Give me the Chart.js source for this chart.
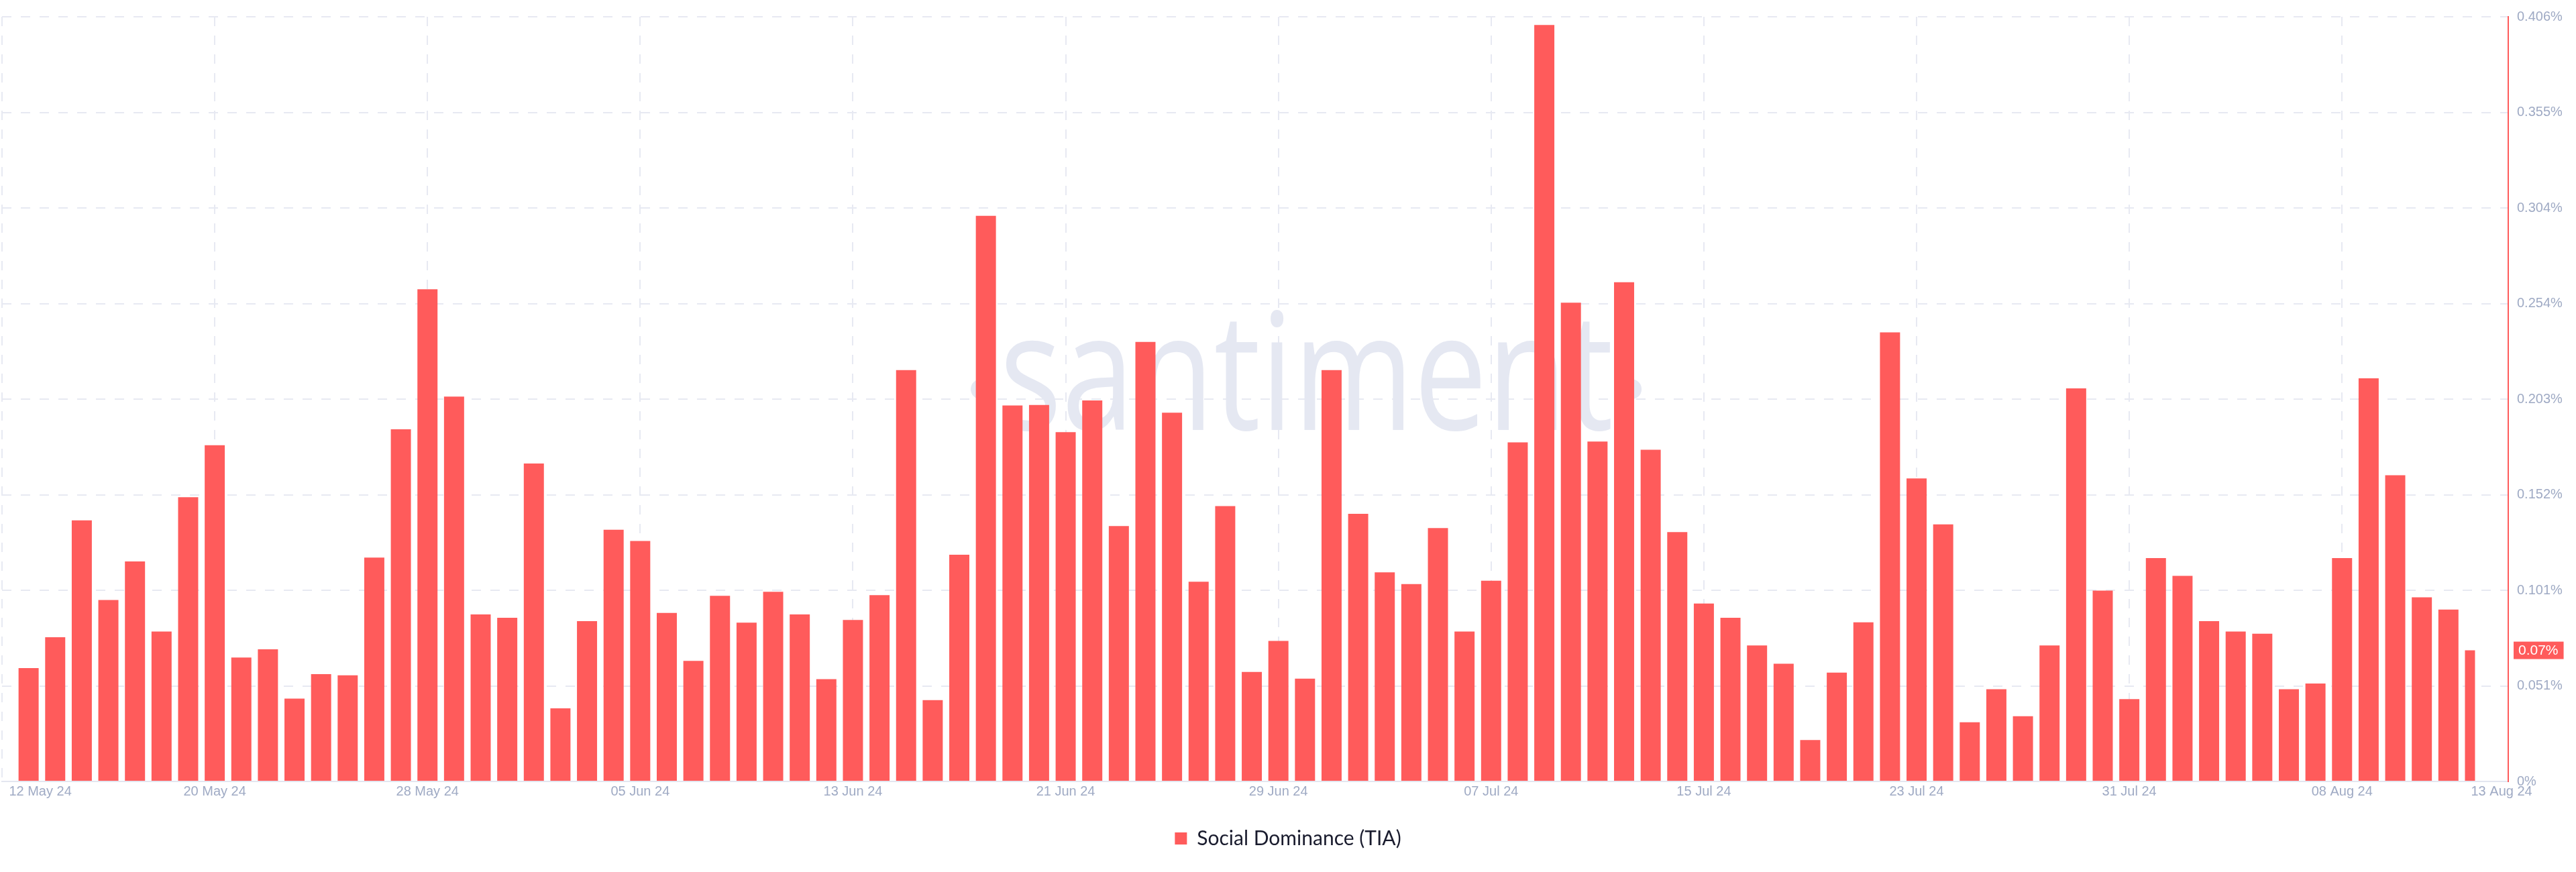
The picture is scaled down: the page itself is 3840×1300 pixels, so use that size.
<!DOCTYPE html>
<html>
<head>
<meta charset="utf-8">
<title>Social Dominance (TIA)</title>
<script src="https://cdn.jsdelivr.net/npm/chart.js@4.4.1/dist/chart.umd.min.js"></script>
<style>
  html, body { margin: 0; padding: 0; background: #ffffff; }
  #wrap { width: 3840px; height: 1300px; }
</style>
</head>
<body>
<div id="wrap"><canvas id="dominanceChart" width="3840" height="1300"></canvas></div>
<script>
// daily social dominance of TIA, 13 May 24 .. 13 Aug 24 (x = days after 12 May 24)
const dominance = [
    0.0602, 0.0766, 0.1386, 0.0963, 0.1168, 0.0796, 0.1509, 0.1785, 0.0658, 0.0702,
    0.0440, 0.0570, 0.0564, 0.1189, 0.1870, 0.2613, 0.2043, 0.0887, 0.0869,
    0.1688, 0.0388, 0.0851, 0.1336, 0.1277, 0.0895, 0.0640, 0.0986, 0.0843, 0.1007,
    0.0887, 0.0543, 0.0857, 0.0989, 0.2184, 0.0432, 0.1204, 0.3003, 0.1996, 0.1999,
    0.1855, 0.2023, 0.1356, 0.2334, 0.1958, 0.1060, 0.1462, 0.0581, 0.0746, 0.0546,
    0.2184, 0.1421, 0.1110, 0.1048, 0.1345, 0.0796, 0.1066, 0.1800, 0.4016, 0.2542,
    0.1805, 0.2651, 0.1761, 0.1324, 0.0945, 0.0869, 0.0722, 0.0625, 0.0220, 0.0578,
    0.0845, 0.2384, 0.1609, 0.1365, 0.0314, 0.0490, 0.0346, 0.0722, 0.2087, 0.1013, 0.0437,
    0.1186, 0.1092, 0.0851, 0.0796, 0.0784, 0.0490, 0.0520, 0.1186, 0.2140, 0.1626, 0.0978, 0.0913, 0.0696
];
const dayNumbers = dominance.map((v, i) => i + 1);

// x tick positions (days after 12 May) and their labels; edge labels sit just inside the ends
const xTickDays = [0, 1.44, 8, 16, 24, 32, 40, 48, 56, 64, 72, 80, 88, 94];
const xTickLabels = ['', '12 May 24', '20 May 24', '28 May 24', '05 Jun 24', '13 Jun 24', '21 Jun 24',
    '29 Jun 24', '07 Jul 24', '15 Jul 24', '23 Jul 24', '31 Jul 24', '08 Aug 24', '13 Aug 24'];
const xMaxDay = 94.25;

const yMax = 0.406;
const yTickLabels = ['0%', '0.051%', '0.101%', '0.152%', '0.203%', '0.254%', '0.304%', '0.355%', '0.406%'];

const barColor = '#ff5b5b';
const gridColor = '#e7e9f2';
const tickColor = '#9faac4';
const tickFont = { family: "'Liberation Sans', Arial, sans-serif", size: 20 };

// santiment mark behind the bars (over the grid)
const watermark = {
    id: 'watermark',
    beforeDatasetsDraw(chart) {
        const { ctx, chartArea } = chart;
        const text = 'santiment';
        const targetWidth = 915;
        ctx.save();
        ctx.font = "400 243px 'Open Sans', sans-serif";
        const w = ctx.measureText(text).width;
        const cx = chartArea.left + chartArea.width * 0.5205;
        const baseY = chartArea.top + chartArea.height * 0.5405;
        ctx.fillStyle = '#e5e8f2';
        // the two dots either side of the word
        ctx.beginPath();
        ctx.arc(cx - targetWidth / 2 - 28, baseY - 61, 15, 0, Math.PI * 2);
        ctx.arc(cx + targetWidth / 2 + 27, baseY - 61, 15, 0, Math.PI * 2);
        ctx.fill();
        ctx.translate(cx, baseY);
        ctx.scale(targetWidth / w, 1);
        ctx.textAlign = 'center';
        ctx.textBaseline = 'alphabetic';
        ctx.fillText(text, 0, 0);
        ctx.restore();
    }
};

// the latest day is still running: only the left half of its bar is shown
const halfLastBar = {
    id: 'halfLastBar',
    beforeDatasetDraw(chart) {
        const { ctx, chartArea } = chart;
        const cut = chart.scales.x.getPixelForValue(dayNumbers[dayNumbers.length - 1]);
        ctx.save();
        ctx.beginPath();
        ctx.rect(chartArea.left, chartArea.top, cut - chartArea.left, chartArea.bottom - chartArea.top);
        ctx.clip();
    },
    afterDatasetDraw(chart) {
        chart.ctx.restore();
    }
};

// red label with the latest value on the right axis
const lastValueBadge = {
    id: 'lastValueBadge',
    afterDraw(chart) {
        const { ctx } = chart;
        const yScale = chart.scales.y;
        const last = dominance[dominance.length - 1];
        const py = yScale.getPixelForValue(last);
        const text = last.toFixed(2) + '%';
        ctx.save();
        ctx.font = "21px 'Liberation Sans', Arial, sans-serif";
        const w = ctx.measureText(text).width + 15;
        ctx.fillStyle = barColor;
        ctx.fillRect(yScale.left + 8, py - 13, w, 26);
        ctx.fillStyle = '#ffffff';
        ctx.textBaseline = 'middle';
        ctx.fillText(text, yScale.left + 15, py + 1);
        ctx.restore();
    }
};

const chartCtx = document.getElementById('dominanceChart').getContext('2d');
const dominanceChart = new Chart(chartCtx, {
    type: 'bar',
    data: {
        datasets: [{
            label: 'Social Dominance (TIA)',
            data: dominance.map((v, i) => ({ x: dayNumbers[i], y: v })),
            backgroundColor: barColor,
            borderWidth: 0,
            barPercentage: 0.756,
            categoryPercentage: 1
        }]
    },
    options: {
        responsive: false,
        animation: false,
        layout: {
            padding: { left: 0, right: 0, top: 0, bottom: 25 }
        },
        plugins: {
            legend: {
                position: 'bottom',
                labels: {
                    boxWidth: 18,
                    boxHeight: 18,
                    padding: 24,
                    color: '#191b2d',
                    font: { family: "Lato, 'Open Sans', sans-serif", size: 30 }
                }
            },
            tooltip: { enabled: false }
        },
        scales: {
            x: {
                type: 'linear',
                min: 0,
                max: xMaxDay,
                offset: false,
                afterBuildTicks: scale => {
                    scale.ticks = xTickDays.map(v => ({ value: v }));
                },
                afterFit: scale => {
                    scale.height += 16;
                },
                ticks: {
                    autoSkip: false,
                    maxRotation: 0,
                    color: tickColor,
                    font: tickFont,
                    padding: 3,
                    callback: (value, index) => xTickLabels[index]
                },
                grid: {
                    offset: false,
                    drawTicks: false,
                    lineWidth: 2,
                    color: ctx => (ctx.tick && ctx.tick.value % 8 === 0) ? gridColor : 'rgba(0,0,0,0)'
                },
                border: { color: '#e3e6f0', width: 2, dash: [14, 14] }
            },
            y: {
                position: 'right',
                min: 0,
                max: yMax,
                afterBuildTicks: scale => {
                    scale.ticks = yTickLabels.map((t, i) => ({ value: yMax * i / (yTickLabels.length - 1) }));
                },
                afterFit: scale => {
                    scale.width = 101;
                },
                ticks: {
                    color: tickColor,
                    font: tickFont,
                    padding: 13,
                    callback: (value, index) => yTickLabels[index]
                },
                grid: {
                    drawTicks: false,
                    lineWidth: 2,
                    color: gridColor
                },
                border: { color: barColor, width: 2, dash: [14, 14] }
            }
        }
    },
    plugins: [watermark, halfLastBar, lastValueBadge]
});
</script>
</body>
</html>
